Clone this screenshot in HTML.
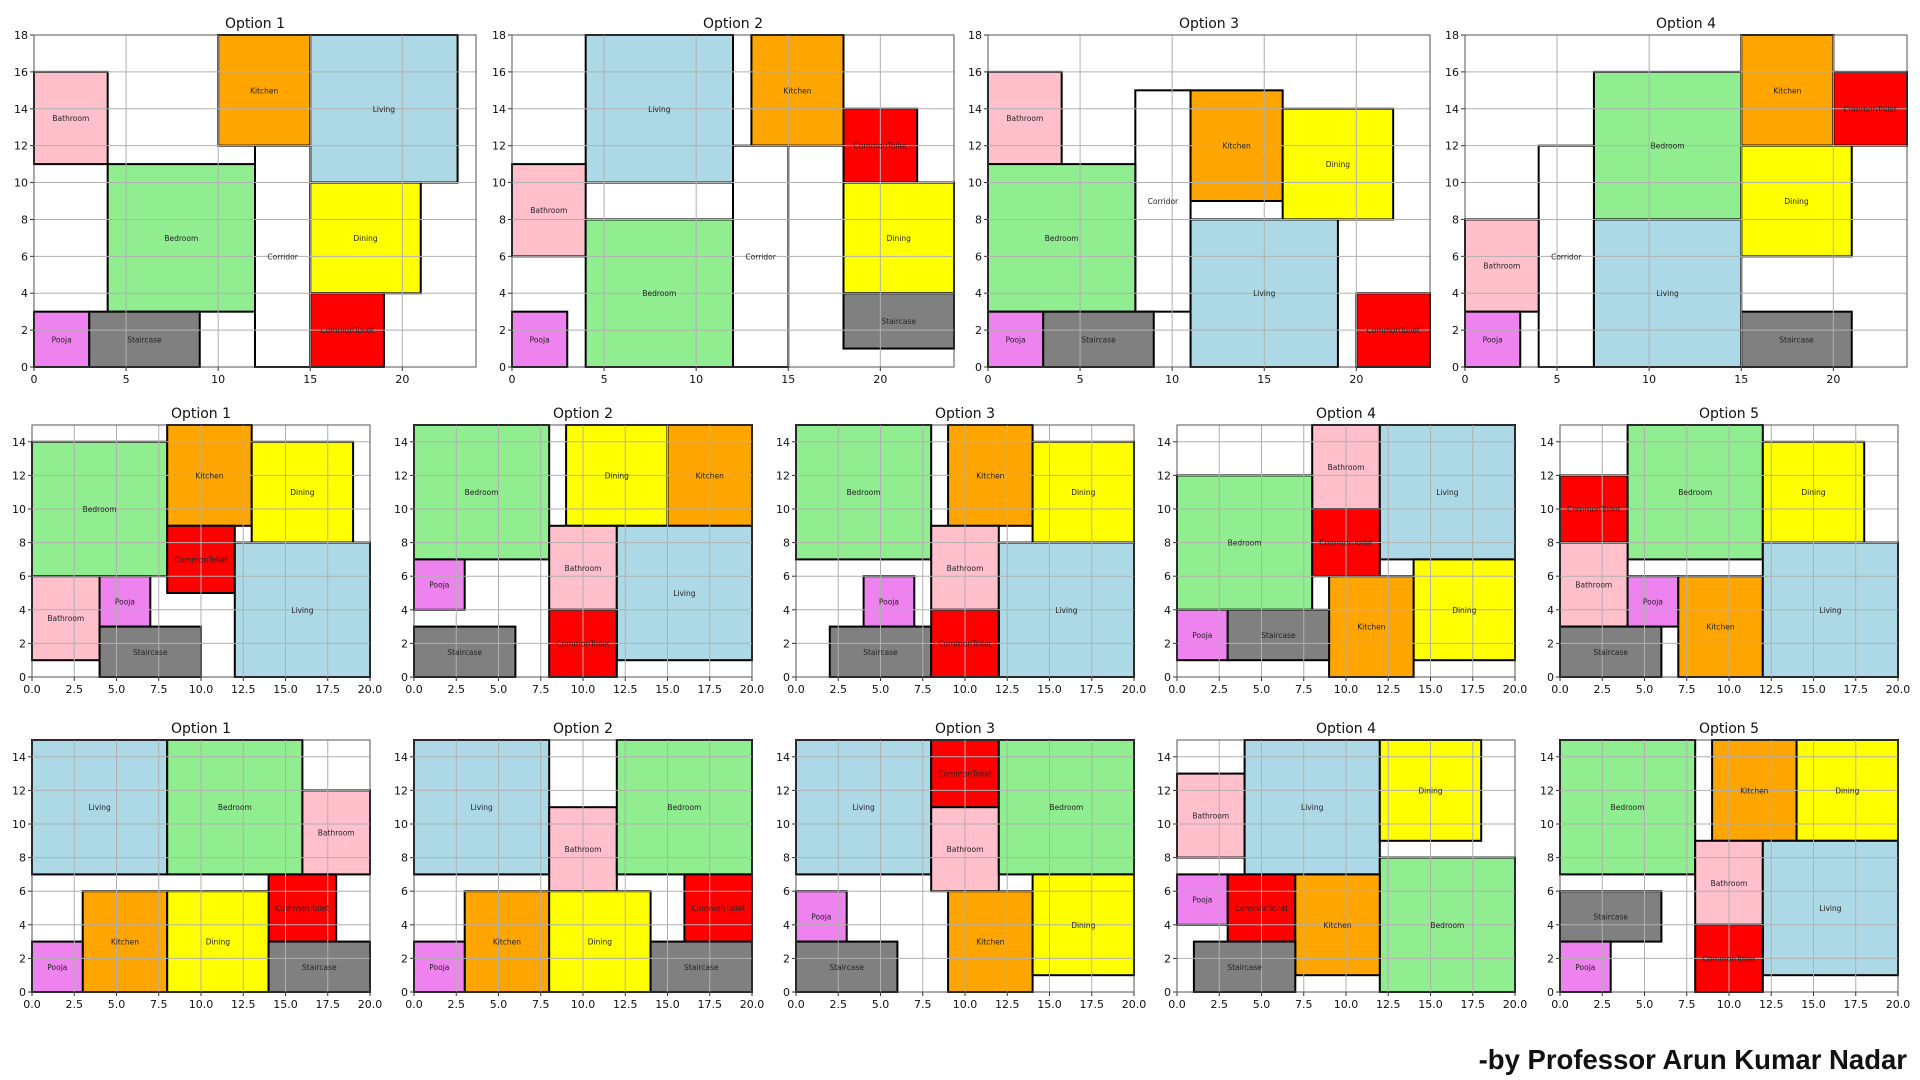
<!DOCTYPE html>
<html><head><meta charset="utf-8"><style>
html,body{margin:0;padding:0;background:#fff;width:1920px;height:1080px;overflow:hidden}
svg{display:block}
text{font-family:"DejaVu Sans","Liberation Sans",sans-serif}
</style></head><body>
<svg id="s" width="1920" height="1080" xmlns="http://www.w3.org/2000/svg">
<rect width="1920" height="1080" fill="#fff"/>
<text x="1907" y="1069" text-anchor="end" font-size="27.5" font-weight="bold" style="font-family:'Liberation Sans',sans-serif" fill="#111">-by Professor Arun Kumar Nadar</text>
</svg>
<script>
(function(){
var C={Bathroom:'#ffc0cb',Kitchen:'#ffa500',Living:'#add8e6',Bedroom:'#90ee90',Corridor:'#ffffff',Dining:'#ffff00',CommonToilet:'#ff0000',Pooja:'#ee82ee',Staircase:'#808080'};
function R(n,x0,y0,x1,y1){return [n,x0,y0,x1,y1];}
var topR=[
[R('Bathroom',0,11,4,16),R('Kitchen',10,12,15,18),R('Living',15,10,23,18),R('Bedroom',4,3,12,11),R('Corridor',12,0,15,12),R('Dining',15,4,21,10),R('CommonToilet',15,0,19,4),R('Pooja',0,0,3,3),R('Staircase',3,0,9,3)],
[R('Living',4,10,12,18),R('Kitchen',13,12,18,18),R('CommonToilet',18,10,22,14),R('Bathroom',0,6,4,11),R('Bedroom',4,0,12,8),R('Corridor',12,0,15,12),R('Dining',18,4,24,10),R('Staircase',18,1,24,4),R('Pooja',0,0,3,3)],
[R('Bathroom',0,11,4,16),R('Corridor',8,3,11,15),R('Kitchen',11,9,16,15),R('Dining',16,8,22,14),R('Bedroom',0,3,8,11),R('Living',11,0,19,8),R('CommonToilet',20,0,24,4),R('Pooja',0,0,3,3),R('Staircase',3,0,9,3)],
[R('Kitchen',15,12,20,18),R('CommonToilet',20,12,24,16),R('Bedroom',7,8,15,16),R('Corridor',4,0,7,12),R('Dining',15,6,21,12),R('Bathroom',0,3,4,8),R('Living',7,0,15,8),R('Staircase',15,0,21,3),R('Pooja',0,0,3,3)]];
var midR=[
[R('Bedroom',0,6,8,14),R('Kitchen',8,9,13,15),R('Dining',13,8,19,14),R('CommonToilet',8,5,12,9),R('Living',12,0,20,8),R('Bathroom',0,1,4,6),R('Pooja',4,3,7,6),R('Staircase',4,0,10,3)],
[R('Bedroom',0,7,8,15),R('Dining',9,9,15,15),R('Kitchen',15,9,20,15),R('Bathroom',8,4,12,9),R('Living',12,1,20,9),R('Pooja',0,4,3,7),R('Staircase',0,0,6,3),R('CommonToilet',8,0,12,4)],
[R('Bedroom',0,7,8,15),R('Kitchen',9,9,14,15),R('Dining',14,8,20,14),R('Bathroom',8,4,12,9),R('Living',12,0,20,8),R('Pooja',4,3,7,6),R('Staircase',2,0,8,3),R('CommonToilet',8,0,12,4)],
[R('Bathroom',8,10,12,15),R('Living',12,7,20,15),R('Bedroom',0,4,8,12),R('CommonToilet',8,6,12,10),R('Dining',14,1,20,7),R('Kitchen',9,0,14,6),R('Pooja',0,1,3,4),R('Staircase',3,1,9,4)],
[R('CommonToilet',0,8,4,12),R('Bedroom',4,7,12,15),R('Dining',12,8,18,14),R('Bathroom',0,3,4,8),R('Pooja',4,3,7,6),R('Kitchen',7,0,12,6),R('Living',12,0,20,8),R('Staircase',0,0,6,3)]];
var botR=[
[R('Living',0,7,8,15),R('Bedroom',8,7,16,15),R('Bathroom',16,7,20,12),R('CommonToilet',14,3,18,7),R('Kitchen',3,0,8,6),R('Dining',8,0,14,6),R('Staircase',14,0,20,3),R('Pooja',0,0,3,3)],
[R('Living',0,7,8,15),R('Bathroom',8,6,12,11),R('Bedroom',12,7,20,15),R('CommonToilet',16,3,20,7),R('Kitchen',3,0,8,6),R('Dining',8,0,14,6),R('Staircase',14,0,20,3),R('Pooja',0,0,3,3)],
[R('Living',0,7,8,15),R('CommonToilet',8,11,12,15),R('Bathroom',8,6,12,11),R('Bedroom',12,7,20,15),R('Pooja',0,3,3,6),R('Staircase',0,0,6,3),R('Kitchen',9,0,14,6),R('Dining',14,1,20,7)],
[R('Bathroom',0,8,4,13),R('Living',4,7,12,15),R('Dining',12,9,18,15),R('Bedroom',12,0,20,8),R('Pooja',0,4,3,7),R('CommonToilet',3,3,7,7),R('Kitchen',7,1,12,7),R('Staircase',1,0,7,3)],
[R('Bedroom',0,7,8,15),R('Kitchen',9,9,14,15),R('Dining',14,9,20,15),R('Bathroom',8,4,12,9),R('Living',12,1,20,9),R('Staircase',0,3,6,6),R('Pooja',0,0,3,3),R('CommonToilet',8,0,12,4)]];
var s='';
function panel(L,T,W,H,xmax,ymax,xt,yt,xf,rooms,title){
 var sx=W/xmax, sy=H/ymax;
 function X(v){return L+v*sx} function Y(v){return T+H-v*sy}
 s+='<text x="'+(L+W/2)+'" y="'+(T-7)+'" text-anchor="middle" font-size="14" fill="#111">'+title+'</text>';
 rooms.forEach(function(r){
  s+='<rect x="'+X(r[1])+'" y="'+Y(r[4])+'" width="'+(r[3]-r[1])*sx+'" height="'+(r[4]-r[2])*sy+'" fill="'+C[r[0]]+'" stroke="#000" stroke-width="2"/>';
 });
 xt.forEach(function(v){s+='<line x1="'+X(v)+'" y1="'+T+'" x2="'+X(v)+'" y2="'+(T+H)+'" stroke="#b0b0b0" stroke-width="1"/>';
  s+='<line x1="'+X(v)+'" y1="'+(T+H)+'" x2="'+X(v)+'" y2="'+(T+H+4)+'" stroke="#333"/>';
  s+='<text x="'+X(v)+'" y="'+(T+H+16)+'" text-anchor="middle" font-size="11" fill="#111">'+(xf?v.toFixed(1):v)+'</text>';});
 yt.forEach(function(v){s+='<line x1="'+L+'" y1="'+Y(v)+'" x2="'+(L+W)+'" y2="'+Y(v)+'" stroke="#b0b0b0" stroke-width="1"/>';
  s+='<line x1="'+(L-4)+'" y1="'+Y(v)+'" x2="'+L+'" y2="'+Y(v)+'" stroke="#333"/>';
  s+='<text x="'+(L-6)+'" y="'+(Y(v)+4)+'" text-anchor="end" font-size="11" fill="#111">'+v+'</text>';});
 rooms.forEach(function(r){
  s+='<text x="'+X((r[1]+r[3])/2)+'" y="'+(Y((r[2]+r[4])/2)+3)+'" text-anchor="middle" font-size="7.5" fill="#222">'+r[0]+'</text>';
 });
 s+='<rect x="'+L+'" y="'+T+'" width="'+W+'" height="'+H+'" fill="none" stroke="#555" stroke-width="1"/>';
}
var tl=[34,512,988,1465];
topR.forEach(function(r,i){panel(tl[i],35,442,332,24,18,[0,5,10,15,20],[0,2,4,6,8,10,12,14,16,18],false,r,'Option '+(i+1));});
var ml=[32,414,796,1177,1560], xt2=[0,2.5,5,7.5,10,12.5,15,17.5,20], yt2=[0,2,4,6,8,10,12,14];
midR.forEach(function(r,i){panel(ml[i],425,338,252,20,15,xt2,yt2,true,r,'Option '+(i+1));});
botR.forEach(function(r,i){panel(ml[i],740,338,252,20,15,xt2,yt2,true,r,'Option '+(i+1));});
document.getElementById('s').insertAdjacentHTML('beforeend',s);
})();
</script>
</body></html>
